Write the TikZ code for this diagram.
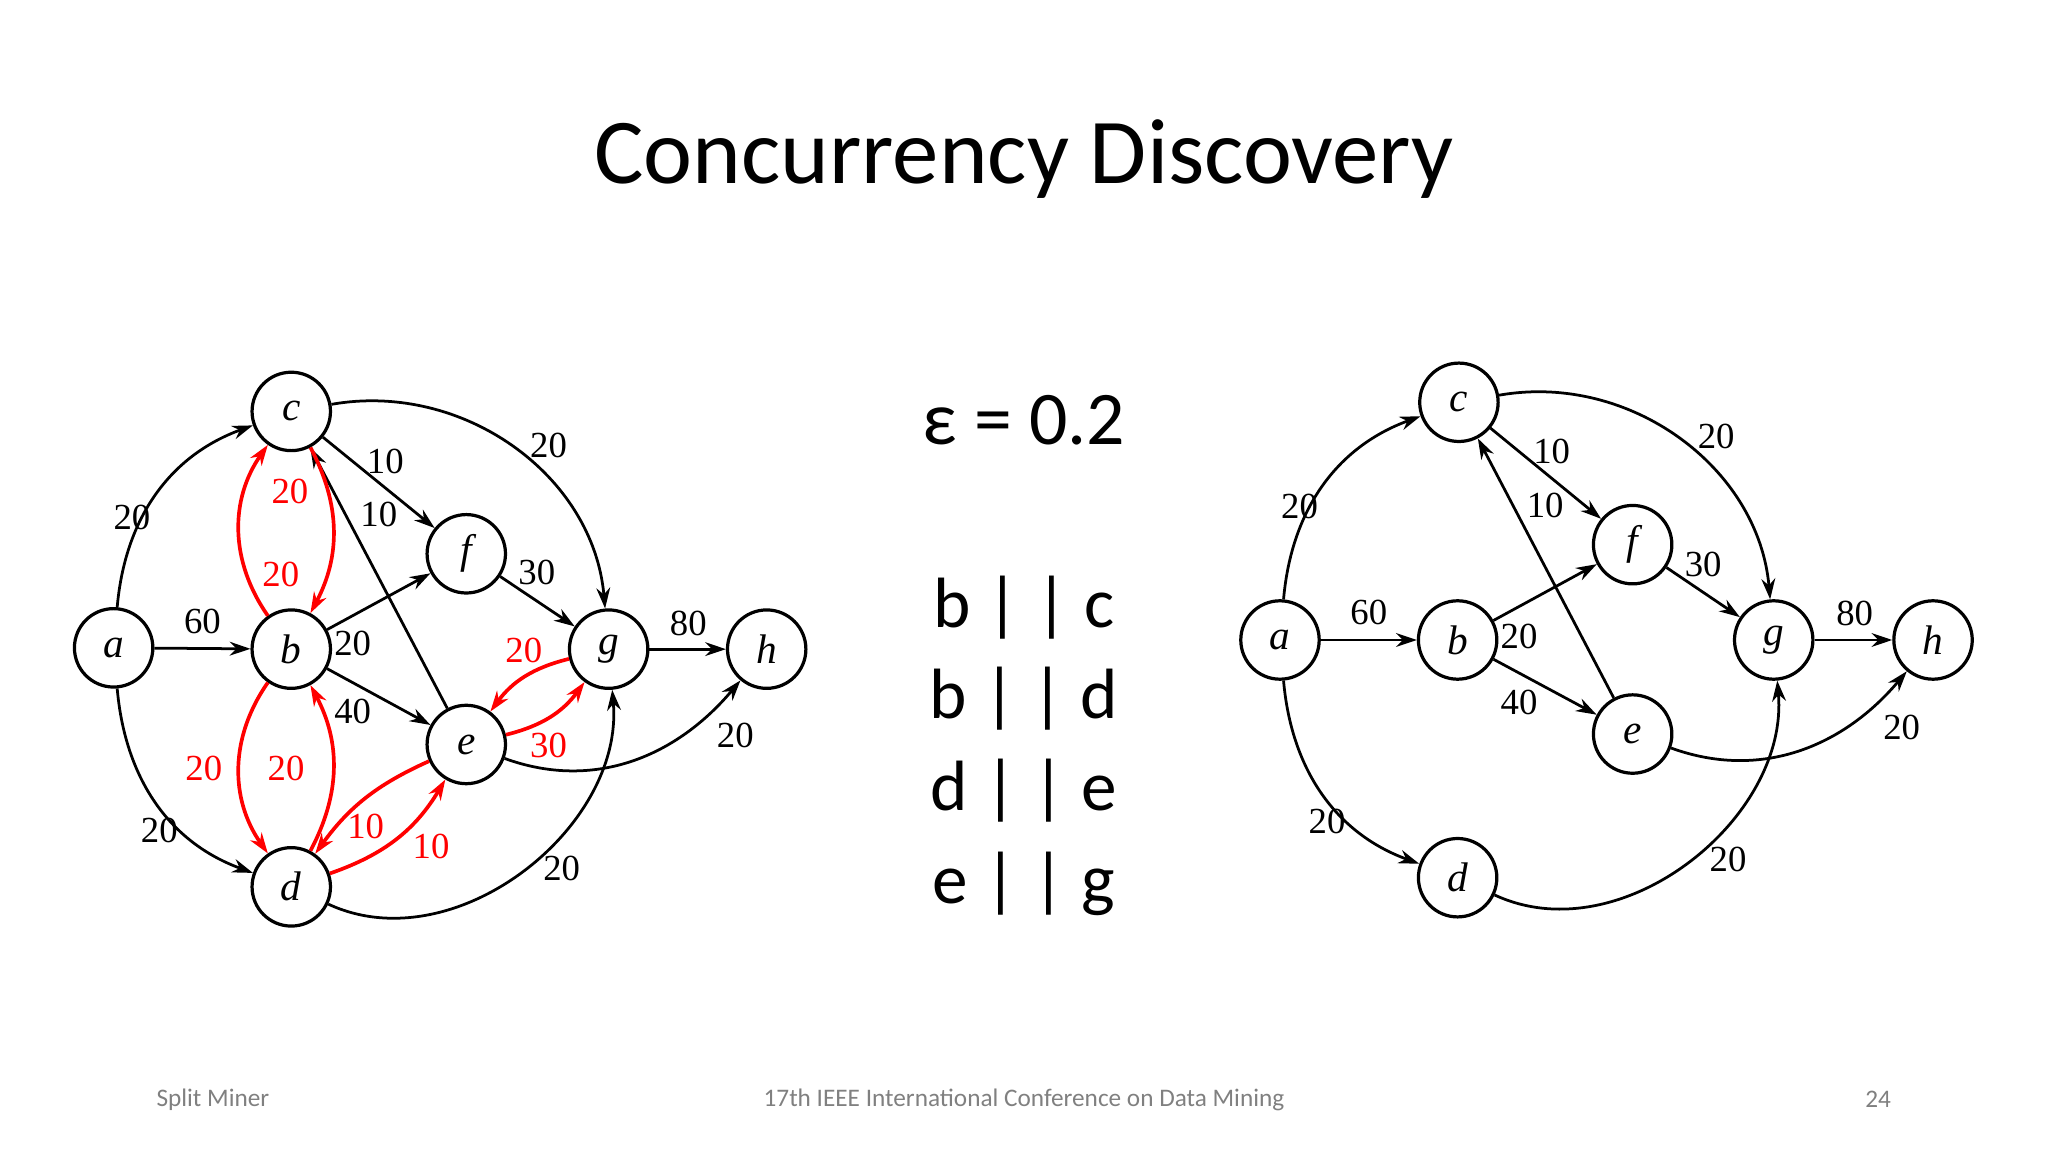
\documentclass[tikz,border=0pt]{standalone}
\usepackage{fontspec}
\setmainfont{Carlito}
\newfontfamily\tms{Liberation Serif}
\usetikzlibrary{arrows.meta}
\begin{document}
\begin{tikzpicture}[x=0.01cm,y=0.01cm,
  vtx/.style={circle,draw,line width=0.7pt,minimum size=0.6cm,inner sep=0pt,font=\tms\itshape\fontsize{9}{9}\selectfont},
  ed/.style={line width=0.6pt,-{Stealth[length=4.5pt,width=3pt]}},
  red/.style={ed,draw=red,line width=0.8pt},
  lb/.style={font=\tms\fontsize{8}{8}\selectfont,inner sep=0pt},
  rl/.style={lb,text=red}]
\useasboundingbox (0,0) rectangle (1568,-882);
\node (title) at (784,-122) {\fontsize{20.2}{21}\selectfont Concurrency Discovery};
\node (eps) at (784,-322) {\fontsize{16.5}{17}\selectfont ε = 0.2};
\node (r1) at (784,-465) {\fontsize{15.5}{16}\selectfont b | | c};
\node (r2) at (784,-535) {\fontsize{15.5}{16}\selectfont b | | d};
\node (r3) at (784,-605) {\fontsize{15.5}{16}\selectfont d | | e};
\node (r4) at (784,-677) {\fontsize{15.5}{16}\selectfont e | | g};
\node[text=gray] (f1) at (163,-842) {\fontsize{5.5}{6}\selectfont Split Miner};
\node[text=gray] (f2) at (784,-842) {\fontsize{5.5}{6}\selectfont 17th IEEE International Conference on Data Mining};
\node[text=gray] (f3) at (1438,-842) {\fontsize{5.5}{6}\selectfont 24};
% left graph
\node[vtx] (a) at (87,-496) {a};
\node[vtx] (c) at (223,-315) {c};
\node[vtx] (b) at (223,-497) {b};
\node[vtx] (f) at (357,-424) {f};
\node[vtx] (g) at (466,-497) {g};
\node[vtx] (e) at (357,-570) {e};
\node[vtx] (h) at (587,-497) {h};
\node[vtx] (d) at (223,-679) {d};
\draw[ed] (a) to[out=85,in=200] (c);
\draw[ed] (a) -- (b);
\draw[ed] (a) to[out=-85,in=160] (d);
\draw[ed] (c) -- (f);
\draw[ed] (e) -- (c);
\draw[ed] (c) to[out=10,in=95] (g);
\draw[ed] (b) -- (f);
\draw[ed] (b) -- (e);
\draw[ed] (f) -- (g);
\draw[ed] (g) -- (h);
\draw[ed] (e) to[out=-20,in=-130] (h);
\draw[ed] (d) to[out=-25,in=-85] (g);
\draw[red] (b) to[bend left=35] (c);
\draw[red] (c) to[bend left=28] (b);
\draw[red] (b) to[bend right=35] (d);
\draw[red] (d) to[bend right=28] (b);
\draw[red] (g) to[bend right=20] (e);
\draw[red] (e) to[bend right=20] (g);
\draw[red] (e) to[bend right=15] (d);
\draw[red] (d) to[bend right=20] (e);
\node[lb] at (101,-396) {20};
\node[lb] at (155,-476) {60};
\node[lb] at (122,-636) {20};
\node[lb] at (295,-353) {10};
\node[lb] at (290,-394) {10};
\node[lb] at (420,-341) {20};
\node[lb] at (270,-493) {20};
\node[lb] at (270,-545) {40};
\node[lb] at (411,-438) {30};
\node[lb] at (527,-477) {80};
\node[lb] at (563,-563) {20};
\node[lb] at (430,-665) {20};
\node[rl] at (222,-376) {20};
\node[rl] at (215,-440) {20};
\node[rl] at (156,-588) {20};
\node[rl] at (219,-588) {20};
\node[rl] at (401,-498) {20};
\node[rl] at (420,-571) {30};
\node[rl] at (280,-633) {10};
\node[rl] at (330,-648) {10};
% right graph
\node[vtx] (A) at (980,-490) {a};
\node[vtx] (C) at (1117,-308) {c};
\node[vtx] (B) at (1116,-490) {b};
\node[vtx] (F) at (1250,-417) {f};
\node[vtx] (G) at (1358,-490) {g};
\node[vtx] (H) at (1480,-490) {h};
\node[vtx] (E) at (1250,-562) {e};
\node[vtx] (D) at (1116,-672) {d};
\draw[ed] (A) to[out=85,in=200] (C);
\draw[ed] (A) -- (B);
\draw[ed] (A) to[out=-85,in=160] (D);
\draw[ed] (C) -- (F);
\draw[ed] (E) -- (C);
\draw[ed] (C) to[out=10,in=95] (G);
\draw[ed] (B) -- (F);
\draw[ed] (B) -- (E);
\draw[ed] (F) -- (G);
\draw[ed] (G) -- (H);
\draw[ed] (E) to[out=-20,in=-130] (H);
\draw[ed] (D) to[out=-25,in=-85] (G);
\node[lb] at (995,-388) {20};
\node[lb] at (1048,-469) {60};
\node[lb] at (1016,-629) {20};
\node[lb] at (1188,-346) {10};
\node[lb] at (1183,-387) {10};
\node[lb] at (1314,-334) {20};
\node[lb] at (1163,-487) {20};
\node[lb] at (1163,-538) {40};
\node[lb] at (1304,-432) {30};
\node[lb] at (1420,-470) {80};
\node[lb] at (1456,-557) {20};
\node[lb] at (1323,-658) {20};
\end{tikzpicture}
\end{document}
